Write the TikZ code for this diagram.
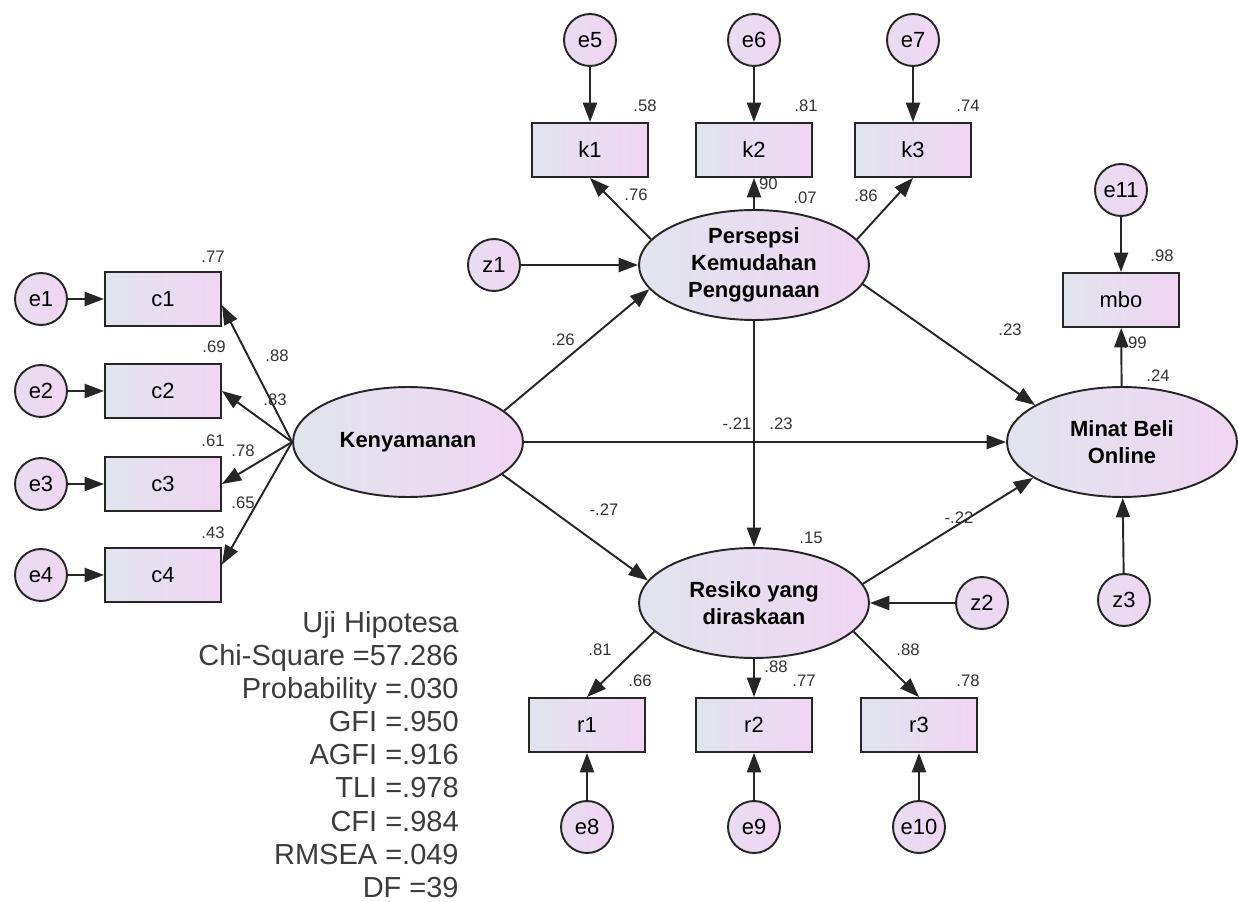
\documentclass[tikz,border=0pt]{standalone}
\usepackage{fontspec}
\setmainfont{Liberation Sans}
\usepackage{xcolor}
\usepackage{tikz}
\usetikzlibrary{arrows.meta,shapes.geometric}
\definecolor{fillL}{HTML}{E1E4EE}
\definecolor{fillR}{HTML}{F0D6F2}
\definecolor{edge}{HTML}{262626}
\definecolor{numtxt}{HTML}{333333}
\definecolor{stattxt}{HTML}{3C3C3C}

\begin{document}
\begin{tikzpicture}[x=0.02cm,y=-0.02cm,
  obs/.style={draw=edge,line width=1.1pt,left color=fillL,right color=fillR,
    minimum width=2.32cm,minimum height=1.08cm,inner sep=0pt,font=\fontsize{12.5}{14}\selectfont},
  err/.style={circle,draw=edge,line width=1.1pt,left color=fillL!50!fillR,right color=fillR,
    minimum size=1.04cm,inner sep=0pt,font=\fontsize{12.5}{14}\selectfont},
  lat/.style={ellipse,draw=edge,line width=1.1pt,left color=fillL,right color=fillR,
    minimum width=4.6cm,minimum height=2.2cm,inner sep=0pt,align=center,
    font=\fontsize{12.5}{15.5}\selectfont\bfseries},
  coef/.style={text=numtxt,font=\fontsize{9.5}{11}\selectfont,inner sep=1pt},
  arr/.style={draw=edge,line width=1.1pt,-{Triangle[length=11pt,width=8pt]}}]
\useasboundingbox (0,0) rectangle (1238,902);

    % latent variables
    \node[lat] (ken) at (408,442) {Kenyamanan};
    \node[lat] (per) at (754,265) {Persepsi\\Kemudahan\\Penggunaan};
    \node[lat] (res) at (754,603) {Resiko yang\\diraskaan};
    \node[lat] (min) at (1122,442) {Minat Beli\\Online};

    % indicators
    \node[obs] (c1) at (163,299) {c1};
    \node[obs] (c2) at (163,391) {c2};
    \node[obs] (c3) at (163,484) {c3};
    \node[obs] (c4) at (163,575) {c4};
    \node[obs] (k1) at (590,150) {k1};
    \node[obs] (k2) at (754,150) {k2};
    \node[obs] (k3) at (913,150) {k3};
    \node[obs] (r1) at (587,725) {r1};
    \node[obs] (r2) at (754,725) {r2};
    \node[obs] (r3) at (919,725) {r3};
    \node[obs] (mbo) at (1121,300) {mbo};

    % error terms
    \node[err] (e1) at (41,299) {e1};
    \node[err] (e2) at (41,391) {e2};
    \node[err] (e3) at (41,484) {e3};
    \node[err] (e4) at (41,575) {e4};
    \node[err] (e5) at (590,40) {e5};
    \node[err] (e6) at (754,40) {e6};
    \node[err] (e7) at (913,40) {e7};
    \node[err] (e8) at (587,827) {e8};
    \node[err] (e9) at (754,827) {e9};
    \node[err] (e10) at (919,827) {e10};
    \node[err] (e11) at (1121,190) {e11};
    \node[err] (z1) at (494,265) {z1};
    \node[err] (z2) at (982,603) {z2};
    \node[err] (z3) at (1124,600) {z3};

    % draw the arrows
    \draw[arr] (e1) -- (c1);
    \draw[arr] (e2) -- (c2);
    \draw[arr] (e3) -- (c3);
    \draw[arr] (e4) -- (c4);
    \draw[arr] (ken.west) -- (c1.-6);
    \draw[arr] (ken.west) -- (c2.east);
    \draw[arr] (ken.west) -- (c3.east);
    \draw[arr] (ken.west) -- (c4.10);
    \draw[arr] (e5) -- (k1);
    \draw[arr] (e6) -- (k2);
    \draw[arr] (e7) -- (k3);
    \draw[arr] (per.166) -- (k1.south);
    \draw[arr] (per.north) -- (k2.south);
    \draw[arr] (per.14) -- (k3.south);
    \draw[arr] (z1) -- (per);
    \draw[arr] (ken.18) -- (per.193);
    \draw[arr] (ken.east) -- (min.west);
    \draw[arr] (ken.-19) -- (res.168);
    \draw[arr] (per.south) -- (res.north);
    \draw[arr] (per.-10) -- (min.157);
    \draw[arr] (res.10) -- (min.202);
    \draw[arr] (z2) -- (res);
    \draw[arr] (z3) -- (min);
    \draw[arr] (min) -- (mbo);
    \draw[arr] (e11) -- (mbo);
    \draw[arr] (res.196) -- (r1.north);
    \draw[arr] (res.south) -- (r2.north);
    \draw[arr] (res.-16) -- (r3.north);
    \draw[arr] (e8) -- (r1);
    \draw[arr] (e9) -- (r2);
    \draw[arr] (e10) -- (r3);

    % estimates
    \node[coef] (vc1) at (213,257) {.77};
    \node[coef] (vc2) at (214,347) {.69};
    \node[coef] (vc3) at (213,441) {.61};
    \node[coef] (vc4) at (213,533) {.43};
    \node[coef] (lc1) at (277,356) {.88};
    \node[coef] (lc2) at (275,400) {.83};
    \node[coef] (lc3) at (243,451) {.78};
    \node[coef] (lc4) at (243,503) {.65};
    \node[coef] (vk1) at (645,106) {.58};
    \node[coef] (vk2) at (806,106) {.81};
    \node[coef] (vk3) at (968,106) {.74};
    \node[coef] (lk1) at (636,195) {.76};
    \node[coef] (lk2) at (766,184) {.90};
    \node[coef] (vper) at (805,198) {.07};
    \node[coef] (lk3) at (866,196) {.86};
    \node[coef] (vmbo) at (1162,256) {.98};
    \node[coef] (lmbo) at (1135,343) {.99};
    \node[coef] (vmin) at (1158,376) {.24};
    \node[coef] (gkp) at (563,340) {.26};
    \node[coef] (gpm) at (1010,330) {.23};
    \node[coef] (gkm) at (737,424) {-.21};
    \node[coef] (gpr) at (781,424) {.23};
    \node[coef] (gkr) at (604,510) {-.27};
    \node[coef] (vres) at (811,538) {.15};
    \node[coef] (grm) at (959,518) {-.22};
    \node[coef] (lr1) at (600,650) {.81};
    \node[coef] (vr1) at (640,681) {.66};
    \node[coef] (lr2) at (776,667) {.88};
    \node[coef] (vr2) at (804,681) {.77};
    \node[coef] (lr3) at (908,650) {.88};
    \node[coef] (vr3) at (968,681) {.78};

    % fit summary
    \node[anchor=north east,align=right,inner sep=0pt,text=stattxt,
      font=\fontsize{16.5}{18.85}\selectfont] (fit) at (459,611)
      {Uji Hipotesa\\Chi-Square =57.286\\Probability =.030\\GFI =.950\\AGFI =.916\\TLI =.978\\CFI =.984\\RMSEA =.049\\DF =39};

\end{tikzpicture}
\end{document}
